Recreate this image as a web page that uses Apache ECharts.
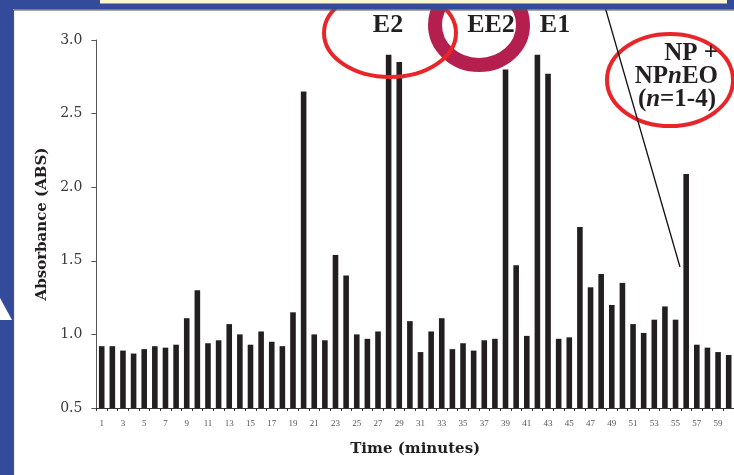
<!DOCTYPE html>
<html>
<head>
<meta charset="utf-8">
<script src="https://cdn.jsdelivr.net/npm/echarts@6/dist/echarts.min.js"></script>
<style>
html,body{margin:0;padding:0;background:#fff;}
#c{width:734px;height:475px;}
</style>
</head>
<body>
<div id="c"></div>
<script>
var categories = [];
for (var i = 1; i <= 60; i++) categories.push(String(i));

var absorbance = [
  0.92, 0.92, 0.89, 0.87, 0.90, 0.92, 0.91, 0.93, 1.11, 1.30,
  0.94, 0.96, 1.07, 1.00, 0.93, 1.02, 0.95, 0.92, 1.15, 2.65,
  1.00, 0.96, 1.54, 1.40, 1.00, 0.97, 1.02, 2.90, 2.85, 1.09,
  0.88, 1.02, 1.11, 0.90, 0.94, 0.89, 0.96, 0.97, 2.80, 1.47,
  0.99, 2.90, 2.77, 0.97, 0.98, 1.73, 1.32, 1.41, 1.20, 1.35,
  1.07, 1.01, 1.10, 1.19, 1.10, 2.09, 0.93, 0.91, 0.88, 0.86
];

var yTicks = [0.5, 1.0, 1.5, 2.0, 2.5, 3.0];

var chart = echarts.init(document.getElementById('c'), null, {renderer: 'canvas'});

var blue = '#344a9a';
var npFont = 'bold 25px "Liberation Serif"';
var npItal = 'bold italic 25px "Liberation Serif"';
var option = {
  backgroundColor: '#ffffff',
  animation: false,
  grid: {left: 96.4, right: -2.4, top: 40, bottom: 67, containLabel: false},
  xAxis: {
    type: 'category',
    data: categories,
    boundaryGap: true,
    name: 'Time (minutes)',
    nameLocation: 'middle',
    nameGap: 34,
    nameTextStyle: {fontFamily: 'DejaVu Serif', fontWeight: 'bold', fontSize: 15, color: '#231f20'},
    axisLine: {lineStyle: {color: '#333', width: 1}},
    axisTick: {show: true, interval: 0, alignWithLabel: false, length: 3, lineStyle: {color: '#333'}},
    axisLabel: {interval: 1, margin: 11, fontFamily: 'Liberation Serif', fontSize: 9, color: '#555'}
  },
  yAxis: {
    type: 'value',
    min: yTicks[0],
    max: yTicks[yTicks.length - 1],
    interval: 0.5,
    name: 'Absorbance (ABS)',
    nameLocation: 'middle',
    nameGap: 45,
    nameTextStyle: {fontFamily: 'DejaVu Serif', fontWeight: 'bold', fontSize: 15, color: '#231f20'},
    axisLine: {show: true, lineStyle: {color: '#555', width: 1}},
    axisTick: {show: true, length: 5, lineStyle: {color: '#555'}},
    splitLine: {show: false},
    axisLabel: {margin: 14, fontFamily: 'DejaVu Serif', fontSize: 14, color: '#3a3a3a',
      formatter: function (v) { return v.toFixed(1); }}
  },
  series: [{
    type: 'bar',
    data: absorbance,
    barWidth: 5.6,
    itemStyle: {color: '#231f20'},
    z: 2
  }],
  graphic: [
    {type: 'rect', shape: {x: 0, y: 0, width: 13, height: 475}, style: {fill: blue}, z: 100},
    {type: 'rect', shape: {x: 0, y: 0, width: 734, height: 9.5}, style: {fill: blue}, z: 100},
    {type: 'rect', shape: {x: 100, y: 0, width: 627, height: 3.5}, style: {fill: '#fcf5d2'}, z: 101},
    {type: 'line', shape: {x1: 13.5, y1: 10, x2: 13.5, y2: 475}, style: {stroke: '#555', lineWidth: 1.2}, z: 101},
    {type: 'line', shape: {x1: 13.5, y1: 10, x2: 734, y2: 10}, style: {stroke: '#555', lineWidth: 1.2}, z: 101},
    {type: 'polygon', shape: {points: [[0, 298], [12, 320], [0, 320]]}, style: {fill: '#ffffff'}, z: 102},
    {type: 'ellipse', shape: {cx: 479, cy: 25, rx: 44, ry: 40}, style: {fill: 'none', stroke: '#b51f50', lineWidth: 14}, z: 90},
    {type: 'ellipse', shape: {cx: 390, cy: 33, rx: 66, ry: 44}, style: {fill: 'none', stroke: '#e8262a', lineWidth: 4}, z: 91},
    {type: 'text', x: 388, y: 25, style: {text: 'E2', font: 'bold 26px "Liberation Serif"', fill: '#231f20', align: 'center', verticalAlign: 'middle'}, z: 95},
    {type: 'text', x: 491, y: 25, style: {text: 'EE2', font: 'bold 26px "Liberation Serif"', fill: '#231f20', align: 'center', verticalAlign: 'middle'}, z: 95},
    {type: 'text', x: 555, y: 25, style: {text: 'E1', font: 'bold 26px "Liberation Serif"', fill: '#231f20', align: 'center', verticalAlign: 'middle'}, z: 95},
    {type: 'ellipse', shape: {cx: 670, cy: 80, rx: 63, ry: 46}, style: {fill: 'none', stroke: '#e8262a', lineWidth: 4}, z: 91},
    {type: 'text', x: 718, y: 54, style: {text: 'NP +', font: npFont, fill: '#231f20', align: 'right', verticalAlign: 'middle'}, z: 95},
    {type: 'text', x: 718, y: 77, style: {rich: {a: {font: npFont, fill: '#231f20'}, b: {font: npItal, fill: '#231f20'}}, text: '{a|NP}{b|n}{a|EO}', align: 'right', verticalAlign: 'middle'}, z: 95},
    {type: 'text', x: 716, y: 100, style: {rich: {a: {font: npFont, fill: '#231f20'}, b: {font: npItal, fill: '#231f20'}}, text: '{a|(}{b|n}{a|=1-4)}', align: 'right', verticalAlign: 'middle'}, z: 95},
    {type: 'line', shape: {x1: 603, y1: 0, x2: 680, y2: 267}, style: {stroke: '#111', lineWidth: 1.3}, z: 96}
  ]
};
chart.setOption(option);
</script>
</body>
</html>
